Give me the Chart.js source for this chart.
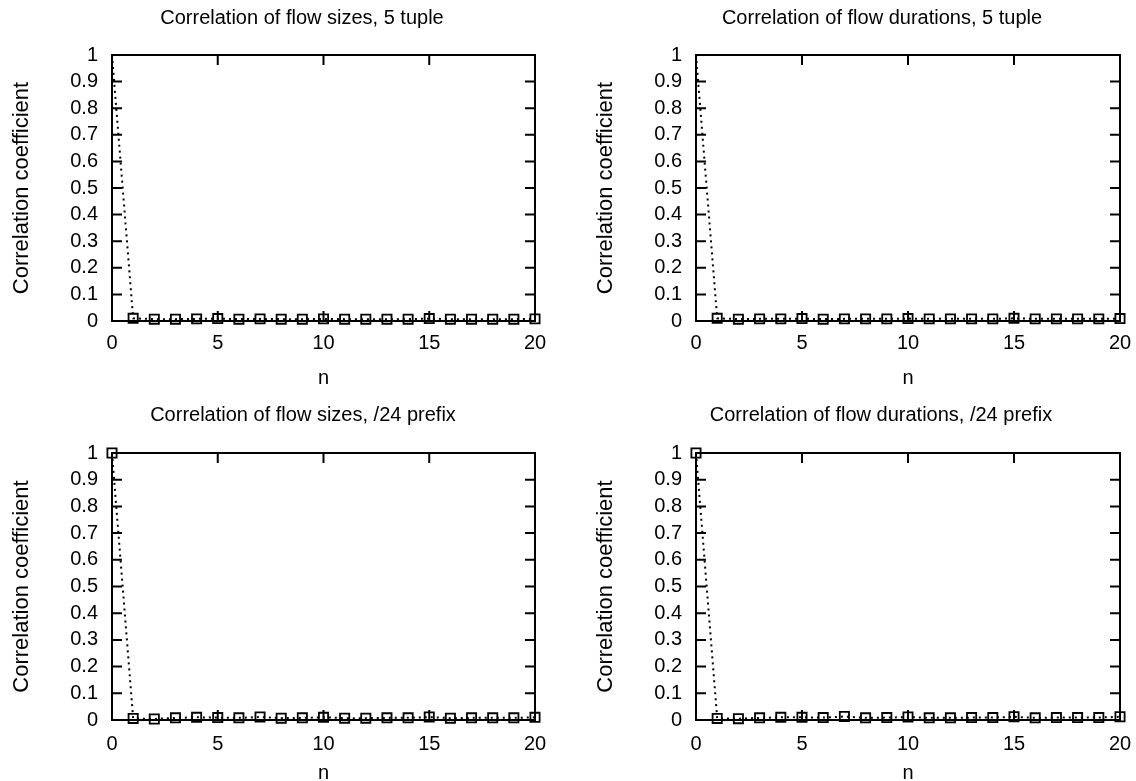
<!DOCTYPE html>
<html>
<head>
<meta charset="utf-8">
<script src="https://cdn.jsdelivr.net/npm/chart.js@4.4.0/dist/chart.umd.min.js"></script>
<style>
  html, body { margin: 0; padding: 0; background: #fff; overflow: hidden; }
  body { width: 1136px; height: 781px; position: relative; }
  canvas { position: absolute; }
</style>
</head>
<body>
<canvas id="c0" width="604" height="390" style="left:0px;top:0px"></canvas>
<canvas id="c1" width="596" height="390" style="left:584px;top:0px"></canvas>
<canvas id="c2" width="606" height="395" style="left:0px;top:390px"></canvas>
<canvas id="c3" width="594" height="395" style="left:584px;top:390px"></canvas>
<script>
// lag n
const nValues = [0, 1, 2, 3, 4, 5, 6, 7, 8, 9, 10, 11, 12, 13, 14, 15, 16, 17, 18, 19, 20];

// correlation coefficients
const sizes5Tuple = [1, 0.01, 0.007, 0.007, 0.008, 0.009, 0.007, 0.008, 0.007, 0.007, 0.008, 0.007, 0.007, 0.007, 0.007, 0.009, 0.007, 0.007, 0.007, 0.007, 0.008];
const durations5Tuple = [1, 0.01, 0.007, 0.008, 0.008, 0.009, 0.007, 0.008, 0.008, 0.008, 0.009, 0.008, 0.008, 0.008, 0.008, 0.01, 0.008, 0.008, 0.008, 0.008, 0.009];
const sizesPrefix = [1, 0.006, 0.004, 0.008, 0.01, 0.009, 0.008, 0.011, 0.007, 0.008, 0.01, 0.007, 0.007, 0.008, 0.008, 0.011, 0.007, 0.008, 0.008, 0.008, 0.01];
const durationsPrefix = [1, 0.006, 0.005, 0.008, 0.01, 0.01, 0.009, 0.013, 0.008, 0.009, 0.011, 0.008, 0.008, 0.009, 0.009, 0.012, 0.008, 0.009, 0.009, 0.009, 0.012];

const xTicks = [0, 5, 10, 15, 20];
const yTicks = [0, 0.1, 0.2, 0.3, 0.4, 0.5, 0.6, 0.7, 0.8, 0.9, 1];

const titles = [
  "Correlation of flow sizes, 5 tuple",
  "Correlation of flow durations, 5 tuple",
  "Correlation of flow sizes, /24 prefix",
  "Correlation of flow durations, /24 prefix",
];

const FONT = "'Liberation Sans', Arial, Helvetica, sans-serif";

// gnuplot style box with inward ticks, mirrored on all four sides
const gnuFrame = {
  id: "gnuFrame",
  beforeDatasetsDraw(chart) {
    const { ctx, chartArea: a, scales: { x, y } } = chart;
    ctx.save();
    ctx.strokeStyle = "#000";
    ctx.lineWidth = 2;
    ctx.strokeRect(a.left, a.top, a.right - a.left, a.bottom - a.top);
    ctx.beginPath();
    y.ticks.forEach((t) => {
      const p = y.getPixelForValue(t.value);
      ctx.moveTo(a.left, p);
      ctx.lineTo(a.left + 10, p);
      ctx.moveTo(a.right, p);
      ctx.lineTo(a.right - 10, p);
    });
    x.ticks.forEach((t) => {
      const p = x.getPixelForValue(t.value);
      ctx.moveTo(p, a.bottom);
      ctx.lineTo(p, a.bottom - 10);
      ctx.moveTo(p, a.top);
      ctx.lineTo(p, a.top + 10);
    });
    ctx.stroke();
    ctx.restore();
  },
};

function makePanel(id, title, values, opt) {
  const pts = nValues.map((n, i) => ({ x: n, y: values[i] }));
  new Chart(document.getElementById(id), {
    type: "line",
    data: {
      datasets: [
        {
          data: pts,
          borderColor: "#000",
          borderWidth: 2,
          borderDash: [2, 4],
          pointStyle: "rect",
          pointRadius: nValues.map((n) => (n === 0 && opt.hideFirst ? 0 : 6.5)),
          pointBorderWidth: 1.8,
          pointBorderColor: "#000",
          pointBackgroundColor: "rgba(0,0,0,0)",
          tension: 0,
          clip: false,
        },
      ],
    },
    options: {
      responsive: false,
      animation: false,
      devicePixelRatio: 1,
      layout: { padding: 0 },
      plugins: {
        legend: { display: false },
        tooltip: { enabled: false },
        title: {
          display: true,
          text: title,
          color: "#000",
          font: { family: FONT, size: 20, weight: "normal" },
          padding: { top: opt.titleTop, bottom: opt.titleBottom },
        },
      },
      scales: {
        x: {
          type: "linear",
          min: 0,
          max: 20,
          afterBuildTicks: (s) => { s.ticks = xTicks.map((v) => ({ value: v })); },
          afterFit: (s) => { s.height = opt.xHeight; },
          grid: { display: false },
          border: { display: false },
          ticks: { color: "#000", padding: opt.xPad, autoSkip: false, maxRotation: 0, font: { family: FONT, size: 20 } },
          title: {
            display: true,
            text: "n",
            color: "#000",
            font: { family: FONT, size: 20 },
            padding: { top: 0, bottom: 0 },
          },
        },
        y: {
          type: "linear",
          min: 0,
          max: 1,
          afterBuildTicks: (s) => { s.ticks = yTicks.map((v) => ({ value: v })); },
          afterFit: (s) => { s.width = 112; },
          grid: { display: false },
          border: { display: false },
          ticks: {
            color: "#000",
            padding: 6,
            autoSkip: false,
            font: { family: FONT, size: 20 },
            callback: (v) => String(Math.round(v * 10) / 10),
          },
          title: {
            display: true,
            text: "Correlation coefficient",
            color: "#000",
            font: { family: FONT, size: 22 },
            padding: { top: 9, bottom: 0 },
          },
        },
        y2: {
          type: "linear",
          position: "right",
          min: 0,
          max: 1,
          afterFit: (s) => { s.width = opt.rightGap; },
          grid: { display: false },
          border: { display: false },
          ticks: { display: false },
        },
      },
    },
    plugins: [gnuFrame],
  });
}

makePanel("c0", titles[0], sizes5Tuple, { hideFirst: true, titleTop: 6, titleBottom: 25, xHeight: 69, xPad: 2, rightGap: 69 });
makePanel("c1", titles[1], durations5Tuple, { hideFirst: true, titleTop: 6, titleBottom: 25, xHeight: 69, xPad: 2, rightGap: 60 });
makePanel("c2", titles[2], sizesPrefix, { hideFirst: false, titleTop: 13, titleBottom: 26, xHeight: 65, xPad: 4, rightGap: 71 });
makePanel("c3", titles[3], durationsPrefix, { hideFirst: false, titleTop: 13, titleBottom: 26, xHeight: 65, xPad: 4, rightGap: 58 });
</script>
</body>
</html>
